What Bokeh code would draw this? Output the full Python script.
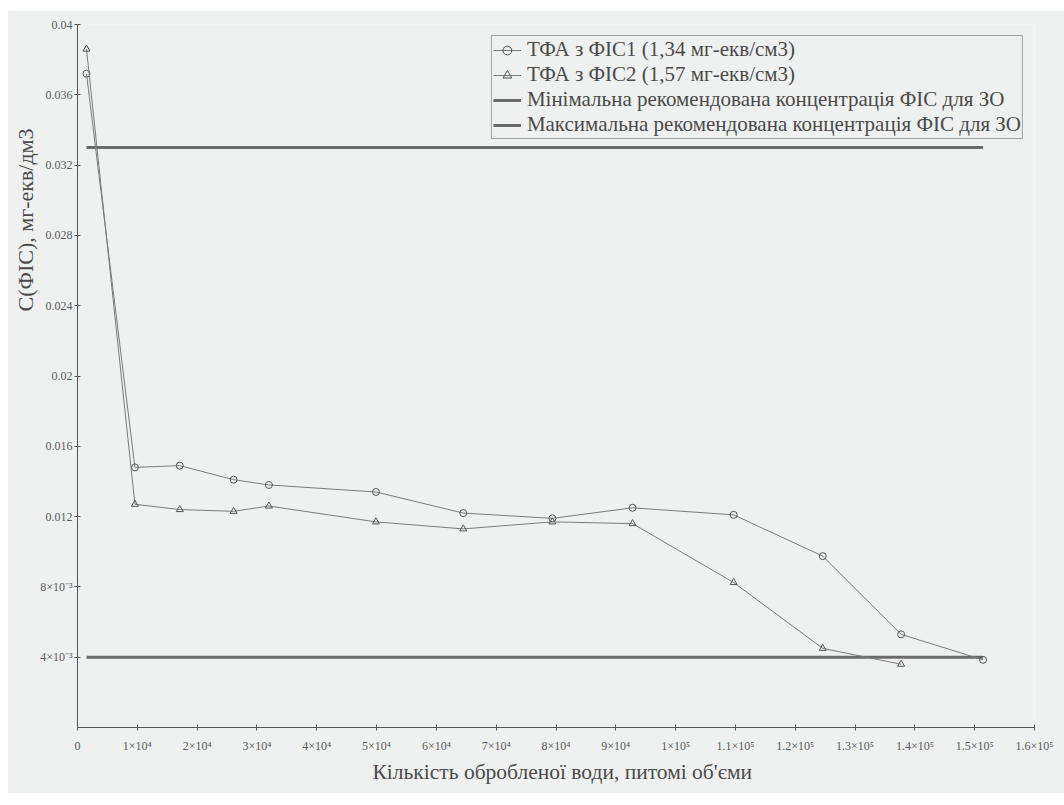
from bokeh.plotting import figure
from bokeh.models import Range1d, FixedTicker, Legend, LegendItem, Title, Spacer
from bokeh.layouts import column, row
from bokeh.embed import file_html
from bokeh.resources import INLINE

# Treated water volume (specific volumes)
volume = [1500, 9600, 17100, 26100, 32000, 49900, 64500, 79400, 92800,
          109700, 124600, 137700, 151400]
# Residual concentration, mg-eq/dm3
conc_fis1 = [0.0372, 0.0148, 0.0149, 0.0141, 0.0138, 0.0134, 0.0122, 0.0119,
             0.0125, 0.0121, 0.00975, 0.0053, 0.00385]
conc_fis2 = [0.0386, 0.0127, 0.0124, 0.0123, 0.0126, 0.0117, 0.0113, 0.0117,
             0.0116, 0.00825, 0.0045, 0.0036]
# Recommended concentration limits and their extent along x
ref_x = [1500, 151400]
min_conc = 0.004
max_conc = 0.033

x_ticks = [i * 10000 for i in range(17)]
x_tick_labels = ["0", "1×10⁴", "2×10⁴", "3×10⁴", "4×10⁴", "5×10⁴", "6×10⁴",
                 "7×10⁴", "8×10⁴", "9×10⁴", "1×10⁵", "1.1×10⁵", "1.2×10⁵",
                 "1.3×10⁵", "1.4×10⁵", "1.5×10⁵", "1.6×10⁵"]
y_ticks = [0.004, 0.008, 0.012, 0.016, 0.020, 0.024, 0.028, 0.032, 0.036, 0.040]
y_tick_labels = ["4×10⁻³", "8×10⁻³", "0.012", "0.016", "0.02", "0.024",
                 "0.028", "0.032", "0.036", "0.04"]

legend_labels = ["ТФА з ФІС1 (1,34 мг-екв/см3)",
                 "ТФА з ФІС2 (1,57 мг-екв/см3)",
                 "Мінімальна рекомендована концентрація ФІС для ЗО",
                 "Максимальна рекомендована концентрація ФІС для ЗО"]
x_title = "Кількість обробленої води, питомі об'єми"
y_title = "С(ФІС), мг-екв/дм3"

BG = "#eff1f0"
INK = "#555555"
SERIES = "#7a7a7a"
REF = "#6b6b6b"
FONT = "'Liberation Serif', 'Times New Roman', serif"

p = figure(width=1057, height=783, output_backend="svg", toolbar_location=None,
           x_range=Range1d(0, 160000), y_range=Range1d(0, 0.04),
           min_border_left=70, min_border_right=30, min_border_top=14,
           min_border_bottom=66)
p.background_fill_color = BG
p.border_fill_color = BG
p.outline_line_color = None
p.grid.visible = False

for ax in (p.xaxis[0], p.yaxis[0]):
    ax.axis_line_color = INK
    ax.major_tick_line_color = INK
    ax.minor_tick_line_color = None
    ax.major_tick_in = 3
    ax.major_tick_out = 3
    ax.major_label_text_font = FONT
    ax.major_label_text_font_size = "12px"
    ax.major_label_text_color = "#5a5a5a"

p.xaxis.ticker = FixedTicker(ticks=x_ticks)
p.xaxis.major_label_overrides = dict(zip(x_ticks, x_tick_labels))
p.xaxis.major_label_standoff = 8
p.yaxis.ticker = FixedTicker(ticks=y_ticks)
p.yaxis.major_label_overrides = dict(zip(y_ticks, y_tick_labels))
p.yaxis.major_label_standoff = 2

# Recommended limits
r_min = p.line(ref_x, [min_conc] * len(ref_x), line_color=REF, line_width=3)
r_max = p.line(ref_x, [max_conc] * len(ref_x), line_color=REF, line_width=3)

# Measured series
l1 = p.line(volume, conc_fis1, line_color=SERIES, line_width=1)
m1 = p.scatter(volume, conc_fis1, marker="circle", size=7, line_color=INK,
               fill_color=None, line_width=1)
n2 = len(conc_fis2)
l2 = p.line(volume[:n2], conc_fis2, line_color=SERIES, line_width=1)
m2 = p.scatter(volume[:n2], conc_fis2, marker="triangle", size=7, line_color=INK,
               fill_color=None, line_width=1)

legend = Legend(items=[
    LegendItem(label=legend_labels[0], renderers=[l1, m1]),
    LegendItem(label=legend_labels[1], renderers=[l2, m2]),
    LegendItem(label=legend_labels[2], renderers=[r_min]),
    LegendItem(label=legend_labels[3], renderers=[r_max]),
])
legend.location = "top_right"
legend.margin = 11
legend.padding = 1
legend.spacing = 0
legend.glyph_width = 28
legend.glyph_height = 22
legend.label_height = 22
legend.label_standoff = 6
legend.label_text_font = FONT
legend.label_text_font_size = "21px"
legend.label_text_line_height = 1.0
legend.label_text_color = "#4a4a4a"
legend.border_line_color = INK
legend.border_line_width = 1
legend.background_fill_color = BG
legend.background_fill_alpha = 1.0
p.add_layout(legend)

# Axis titles
p.add_layout(Title(text=x_title, align="left", offset=295, standoff=4,
                   text_font=FONT, text_font_size="21.5px", text_font_style="normal",
                   text_color="#4a4a4a"), "below")
p.add_layout(Title(text=y_title, align="left", offset=416, standoff=0,
                   text_font=FONT, text_font_size="22px", text_font_style="normal",
                   text_color="#4a4a4a"), "left")

page = column(Spacer(height=10), row(Spacer(width=7), p))
open("out.html", "w").write(file_html(page, INLINE))
